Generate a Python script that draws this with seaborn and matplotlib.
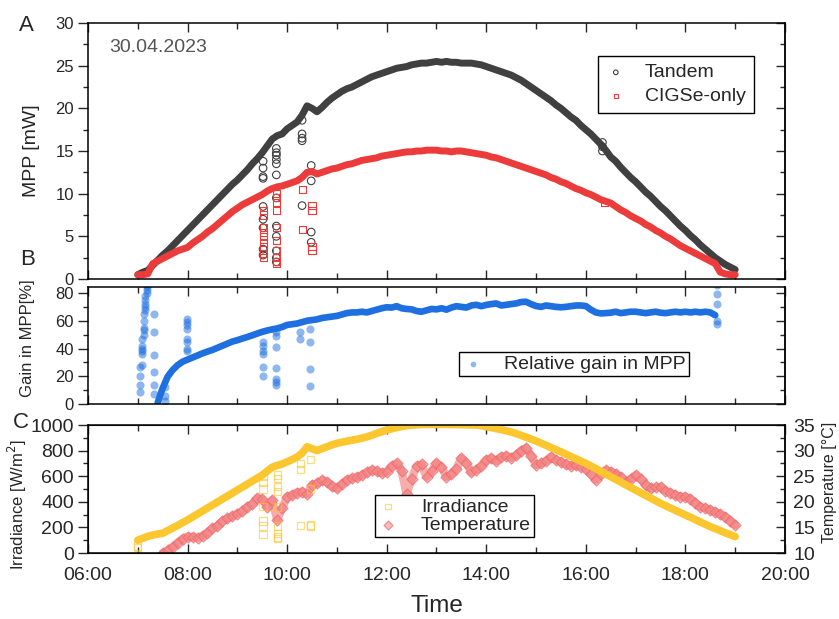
import numpy as np
import pandas as pd
import seaborn as sns
import matplotlib
matplotlib.use("Agg")
import matplotlib.pyplot as plt
import matplotlib.dates as mdates
from matplotlib.ticker import MultipleLocator

sns.set_style("ticks")
plt.rcParams["font.family"] = ["Liberation Sans", "DejaVu Sans"]

day = "2023-04-30 "

# MPP [mW], one reading every 6 min from 07:00 to 19:00
tandem = [0.5, 0.8, 1.0, 1.6, 2.2, 2.8, 3.3, 3.9, 4.5, 5.1,
          5.7, 6.3, 6.9, 7.5, 8.1, 8.7, 9.3, 9.9, 10.5, 11.1,
          11.6, 12.2, 12.8, 13.5, 14.1, 14.8, 15.6, 16.4, 16.8, 17.0,
          17.6, 18.0, 18.4, 19.2, 20.3, 20.0, 19.6, 20.1, 20.7, 21.2,
          21.6, 22.0, 22.3, 22.5, 22.8, 23.1, 23.4, 23.7, 23.9, 24.1,
          24.3, 24.5, 24.7, 24.8, 24.9, 25.1, 25.2, 25.3, 25.3, 25.4,
          25.5, 25.4, 25.5, 25.4, 25.4, 25.3, 25.3, 25.3, 25.2, 25.1,
          24.9, 24.7, 24.5, 24.3, 24.1, 23.9, 23.6, 23.3, 22.9, 22.5,
          22.1, 21.7, 21.3, 20.9, 20.4, 20.0, 19.5, 19.0, 18.6, 18.0,
          17.5, 17.0, 16.4, 15.8, 15.1, 14.3, 13.8, 13.1, 12.5, 11.9,
          11.4, 10.8, 10.2, 9.7, 9.1, 8.5, 8.0, 7.4, 6.8, 6.2,
          5.7, 5.1, 4.6, 4.0, 3.5, 3.0, 2.5, 2.1, 1.7, 1.4,
          1.1]
cigse = [0.5, 0.5, 0.6, 1.8, 2.1, 2.4, 2.7, 3.0, 3.3, 3.5,
         3.7, 4.2, 4.6, 5.0, 5.5, 5.9, 6.4, 6.9, 7.4, 7.9,
         8.3, 8.7, 9.0, 9.3, 9.6, 9.9, 10.3, 10.6, 10.8, 10.9,
         11.1, 11.3, 11.5, 11.9, 12.5, 12.6, 12.3, 12.5, 12.7, 12.9,
         13.0, 13.2, 13.4, 13.5, 13.7, 13.9, 14.0, 14.1, 14.2, 14.4,
         14.5, 14.6, 14.7, 14.8, 14.9, 14.9, 15.0, 15.0, 15.1, 15.1,
         15.1, 15.0, 15.0, 14.9, 15.0, 15.0, 14.9, 14.8, 14.7, 14.6,
         14.5, 14.3, 14.2, 14.0, 13.8, 13.6, 13.4, 13.2, 13.0, 12.8,
         12.6, 12.4, 12.2, 11.9, 11.7, 11.4, 11.2, 10.9, 10.6, 10.4,
         10.1, 9.9, 9.6, 9.3, 9.1, 8.9, 8.5, 8.1, 7.8, 7.4,
         7.1, 6.8, 6.4, 6.1, 5.7, 5.4, 5.0, 4.7, 4.3, 3.9,
         3.6, 3.3, 3.0, 2.7, 2.4, 2.1, 1.8, 0.8, 0.6, 0.5,
         0.5]

# passing clouds: scattered low readings
tandem_dips = [("09:31", [13.8, 13.0, 12.0, 11.8, 8.5, 7.0, 6.0, 3.5, 2.8]),
               ("09:47", [15.3, 14.8, 14.5, 14.0, 13.5, 12.2, 9.5, 6.2, 5.0, 3.3, 2.5, 2.0]),
               ("10:18", [18.6, 17.0, 16.5, 16.2, 8.6]),
               ("10:29", [13.3, 11.5, 5.5, 4.3]),
               ("16:20", [16.0, 15.5, 15.0])]
cigse_dips = [("09:31", [8.0, 7.5, 6.0, 5.5, 5.0, 4.3, 3.8, 3.0, 2.5]),
              ("09:47", [10.0, 9.5, 9.0, 8.0, 6.0, 4.5, 3.3, 2.5, 2.0, 1.8]),
              ("10:19", [10.5, 5.8]),
              ("10:30", [8.6, 8.0, 3.8, 3.4]),
              ("16:22", [9.0])]

# relative gain [%], every 6 min from 07:24 to 18:36
gain = [1, 11.5, 19.7, 24.5, 28, 30.5,
        32, 33.5, 35, 36.5, 37.8, 39, 40.5, 42, 43.5, 45,
        46, 47.2, 48.3, 49.5, 50.8, 52, 53, 53.8, 54.5, 55.5,
        57, 57.5, 58, 59, 60, 60.5, 61, 62, 62.5, 63,
        63.5, 64.5, 65.5, 66, 66, 66.5, 66, 67, 68, 69,
        69.7, 69.5, 70.5, 69, 68.5, 68.2, 67, 66.5, 67.5, 68.5,
        68.2, 69, 68, 69.5, 70.5, 70, 69.5, 71, 71.5, 70.5,
        71.4, 72, 72.5, 71, 71.5, 72, 72.5, 73.5, 73.7, 72,
        70.6, 70, 71, 70.5, 70, 69.7, 70, 70.5, 71, 71,
        70.6, 68, 66, 65.3, 65.5, 65.8, 66.5, 65.5, 66, 66.5,
        66.5, 66, 65.5, 66, 66.5, 65.8, 65.5, 66, 66.5, 66,
        66.5, 66, 66.5, 66, 66.5, 66, 64]
gain_dips = [("07:03", [9, 14, 20, 27]), ("07:05", [28, 36, 38, 40, 42, 47]),
             ("07:07", [50, 53, 55, 60, 65]), ("07:09", [68, 70, 72, 75, 78]),
             ("07:11", [80, 82, 84, 86]),
             ("07:20", [65, 52, 35, 23, 14, 7]),
             ("07:33", [12, 6, 2]),
             ("07:59", [61, 59, 57, 54, 47, 45, 40, 38]),
             ("09:31", [45, 42, 38, 36, 27, 20]),
             ("09:47", [52, 49, 41, 26, 18, 16, 14]),
             ("10:16", [52, 47]),
             ("10:28", [54, 45, 25, 13]),
             ("18:38", [86, 79, 72, 60, 58])]

# irradiance [W/m2], every 6 min from 07:00 to 19:00
irradiance = [100, 115, 130, 140, 148, 155, 175, 195, 215, 237,
              258, 282, 305, 328, 352, 375, 398, 422, 445, 468,
              492, 515, 538, 562, 585, 609, 640, 670, 685, 695,
              713, 730, 750, 780, 830, 815, 800, 815, 830, 845,
              857, 866, 874, 881, 889, 896, 908, 920, 935, 948,
              961, 970, 980, 988, 995, 999, 1002, 1004, 1005, 1005,
              1005, 1005, 1005, 1004, 1004, 1003, 1002, 1001, 1000, 995,
              987, 980, 972, 964, 955, 945, 933, 919, 905, 890,
              875, 858, 841, 824, 807, 790, 772, 754, 736, 718,
              700, 680, 659, 638, 617, 596, 575, 554, 533, 512,
              492, 471, 450, 430, 409, 388, 370, 351, 333, 315,
              297, 279, 261, 242, 224, 206, 190, 174, 158, 143,
              128]
irradiance_dips = [("07:00", [55, 45]),
                   ("09:31", [600, 550, 500, 365, 250, 210, 145]),
                   ("09:48", [610, 580, 520, 480, 360, 210, 150, 125, 115]),
                   ("10:16", [700, 650, 215]),
                   ("10:28", [730, 500, 220, 210])]

# module temperature [degC], every 6 min from 07:30 to 19:00
temperature = [10.0, 10.5, 11.2, 12.0, 12.8,
               13.2, 13.1, 13.0, 13.4, 14.0, 14.8, 15.3, 16.2, 16.8, 17.2,
               17.7, 18.2, 19.0, 19.6, 20.7, 20.5, 19.0, 20.3, 16.5, 18.8,
               21.0, 21.3, 21.8, 22.0, 21.5, 23.3, 23.6, 24.2, 23.9, 23.0,
               22.6, 23.5, 24.3, 24.6, 24.8, 25.2, 25.8, 26.2, 26.0, 25.6,
               25.9, 27.0, 27.5, 26.0, 21.5, 24.5, 26.9, 27.3, 24.9, 26.0,
               27.5, 26.8, 24.9, 25.5, 26.5, 28.5, 27.5, 25.8, 26.3, 27.0,
               28.2, 28.5, 28.0, 28.8, 29.0, 28.6, 29.1, 30.0, 30.5, 29.0,
               27.2, 27.5, 28.0, 28.8, 28.2, 27.8, 27.3, 27.0, 27.2, 26.8,
               26.5, 25.5, 24.3, 25.5, 26.2, 25.9, 25.5, 24.8, 23.9, 24.5,
               25.2, 24.5, 23.3, 22.6, 22.8, 22.9, 22.2, 21.8, 21.3, 21.0,
               21.0, 20.6, 19.8, 19.0, 18.8, 18.4, 18.0, 17.6, 17.1, 16.3,
               15.5]

c_tandem = "#404040"
c_cigse = "#ec3b3b"
c_gain = "#1e6fe0"
c_irr = "#fcc62e"
c_temp = "#f06a6a"


def grid(start, vals):
    return pd.date_range(day + start, periods=len(vals), freq="6min")


def flatten(dips):
    t, v = [], []
    for hhmm, vals in dips:
        t += [pd.Timestamp(day + hhmm)] * len(vals)
        v += vals
    return t, v


def style_time_axis(ax, labels):
    ax.set_xlim(pd.Timestamp(day + "06:00"), pd.Timestamp(day + "20:00"))
    ax.xaxis.set_major_locator(mdates.HourLocator(byhour=range(0, 24, 2)))
    ax.xaxis.set_minor_locator(mdates.HourLocator())
    ax.xaxis.set_major_formatter(mdates.DateFormatter("%H:%M"))
    ax.tick_params(axis="x", which="both", direction="in", top=True, bottom=True,
                   labelbottom=labels, labelsize=14, pad=10)
    ax.tick_params(axis="x", which="major", length=6.5, width=1)
    ax.tick_params(axis="x", which="minor", length=4, width=1)
    ax.set_xlabel("")
    for sp in ax.spines.values():
        sp.set_linewidth(1.1)
        sp.set_color("black")


def right_ticks(ax, major, minor):
    sec = ax.secondary_yaxis("right")
    sec.yaxis.set_major_locator(MultipleLocator(major))
    sec.yaxis.set_minor_locator(MultipleLocator(minor))
    sec.tick_params(which="both", direction="in", labelright=False, width=1)
    sec.tick_params(which="major", length=6.5)
    sec.tick_params(which="minor", length=3.5)
    sec.spines["right"].set_linewidth(1.1)


def left_ticks(ax, major, minor, size):
    ax.yaxis.set_major_locator(MultipleLocator(major))
    ax.yaxis.set_minor_locator(MultipleLocator(minor))
    ax.tick_params(axis="y", which="both", direction="out", right=False,
                   labelsize=size, width=1, pad=3)
    ax.tick_params(axis="y", which="major", length=7)
    ax.tick_params(axis="y", which="minor", length=3.5)


fig = plt.figure(figsize=(8.39, 6.19), dpi=100)
ax_a = fig.add_axes([0.1049, 0.5493, 0.8307, 0.4135])
ax_b = fig.add_axes([0.1049, 0.3473, 0.8307, 0.1890])
ax_c = fig.add_axes([0.1049, 0.1066, 0.8307, 0.2068])

# ---- A: MPP
sns.lineplot(x=grid("07:00", tandem), y=tandem, ax=ax_a, color=c_tandem, linewidth=5)
sns.lineplot(x=grid("07:00", cigse), y=cigse, ax=ax_a, color=c_cigse, linewidth=5)
t, v = flatten(tandem_dips)
sns.scatterplot(x=t, y=v, ax=ax_a, marker="o", s=30, facecolor="none",
                edgecolor=c_tandem, linewidth=0.8, label="Tandem")
t, v = flatten(cigse_dips)
sns.scatterplot(x=t, y=v, ax=ax_a, marker="s", s=26, facecolor="none",
                edgecolor=c_cigse, linewidth=0.8, label="CIGSe-only")
ax_a.set_ylim(0, 30)
left_ticks(ax_a, 5, 2.5, 12)
right_ticks(ax_a, 5, 2.5)
style_time_axis(ax_a, False)
ax_a.set_ylabel("MPP [mW]", fontsize=14)
ax_a.yaxis.set_label_coords(-0.069, 0.5)
ax_a.text(0.03, 0.905, "30.04.2023", transform=ax_a.transAxes, fontsize=14,
          color="#555555", va="center")
ax_a.legend(loc="upper right", bbox_to_anchor=(0.955, 0.871), borderaxespad=0,
            fontsize=14, frameon=True, fancybox=False, edgecolor="black",
            framealpha=1, handlelength=1.0, handletextpad=1.0, labelspacing=0.3,
            borderpad=0.4, markerscale=0.6)

# ---- B: gain
sns.lineplot(x=grid("07:24", gain), y=gain, ax=ax_b, color=c_gain, linewidth=4.8)
t, v = flatten(gain_dips)
sns.scatterplot(x=t, y=v, ax=ax_b, marker="o", s=34, color=c_gain, alpha=0.5,
                linewidth=0, label="Relative gain in MPP")
ax_b.set_ylim(0, 84.3)
left_ticks(ax_b, 20, 10, 12)
right_ticks(ax_b, 20, 10)
style_time_axis(ax_b, False)
ax_b.set_ylabel("Gain in MPP[%]", fontsize=12)
ax_b.yaxis.set_label_coords(-0.076, 0.56)
ax_b.legend(loc="upper left", bbox_to_anchor=(0.532, 0.444), borderaxespad=0,
            fontsize=14, frameon=True, fancybox=False, edgecolor="black",
            framealpha=1, handlelength=1.2, handletextpad=1.0, borderpad=0.15,
            markerscale=0.7)

# ---- C: irradiance and temperature
ax_t = ax_c.twinx()
ax_c.set_zorder(ax_t.get_zorder() + 1)
ax_c.patch.set_visible(False)

sns.lineplot(x=grid("07:30", temperature), y=temperature, ax=ax_t, color=c_temp,
             linewidth=6, alpha=0.55)
sns.scatterplot(x=grid("07:30", temperature), y=temperature, ax=ax_t, marker="D",
                s=32, facecolor="#f7a5a5", edgecolor=c_temp, linewidth=0.8,
                alpha=0.75, label="Temperature")
ax_t.set_ylim(10, 35)
ax_t.yaxis.set_major_locator(MultipleLocator(5))
ax_t.yaxis.set_minor_locator(MultipleLocator(2.5))
ax_t.tick_params(axis="y", which="both", direction="in", labelsize=14, width=1, pad=6)
ax_t.tick_params(axis="y", which="major", length=6.5)
ax_t.tick_params(axis="y", which="minor", length=3.5)
ax_t.set_ylabel("Temperature [°C]", fontsize=11.5)
ax_t.yaxis.set_label_coords(1.053, 0.55)
if ax_t.legend_:
    ax_t.legend_.remove()

sns.lineplot(x=grid("07:00", irradiance), y=irradiance, ax=ax_c, color=c_irr, linewidth=5.5)
t, v = flatten(irradiance_dips)
sns.scatterplot(x=t, y=v, ax=ax_c, marker="s", s=28, facecolor="none",
                edgecolor=c_irr, linewidth=0.9, alpha=0.6, label="Irradiance")
ax_c.set_ylim(0, 1000)
left_ticks(ax_c, 200, 100, 14)
style_time_axis(ax_c, True)
ax_t.spines["right"].set_linewidth(1.1)
ax_c.set_ylabel("Irradiance [W/m$^2$]", fontsize=12)
ax_c.yaxis.set_label_coords(-0.085, 0.38)
ax_c.set_xlabel("Time", fontsize=17.5, labelpad=8)

h1, l1 = ax_c.get_legend_handles_labels()
h2, l2 = ax_t.get_legend_handles_labels()
ax_c.legend(h1 + h2, l1 + l2, loc="upper left", bbox_to_anchor=(0.412, 0.453),
            borderaxespad=0, fontsize=14, frameon=True, fancybox=False,
            edgecolor="black", framealpha=1, handlelength=1.0, handletextpad=1.2,
            labelspacing=0.05, borderpad=0.15, markerscale=0.8)

# panel letters
fig.text(0.032, 0.959, "A", fontsize=16, ha="center", va="center")
fig.text(0.033, 0.58, "B", fontsize=16, ha="center", va="center")
fig.text(0.025, 0.317, "C", fontsize=16, ha="center", va="center")

fig.savefig("out.png", dpi=100)
